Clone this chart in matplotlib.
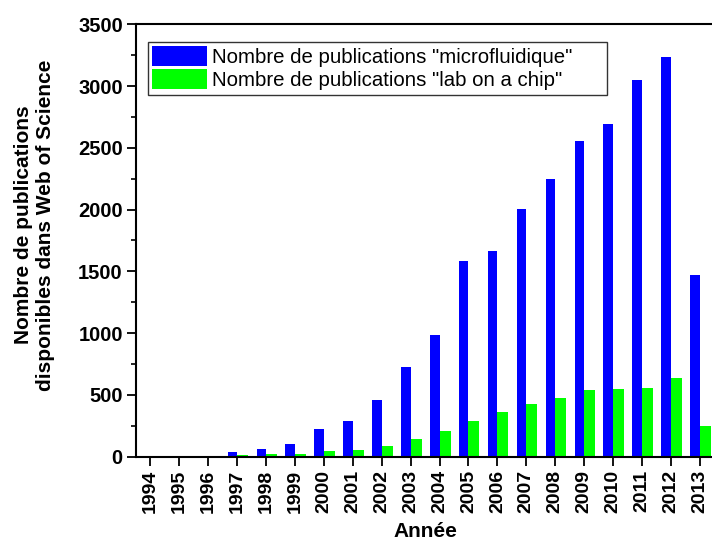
import numpy as np
import matplotlib
matplotlib.use("Agg")
import matplotlib.pyplot as plt
from matplotlib.ticker import MultipleLocator
from matplotlib.patches import Rectangle
from matplotlib.legend_handler import HandlerPatch

plt.rcParams['font.family'] = ['Liberation Sans', 'DejaVu Sans']

years = np.arange(1994, 2014)
micro = [0, 0, 0, 38, 62, 105, 225, 292, 460, 725, 987, 1581, 1668,
         2006, 2244, 2555, 2690, 3049, 3231, 1471]
lab_chip = [0, 0, 0, 11, 22, 19, 46, 54, 89, 141, 208, 287, 362,
            430, 479, 538, 547, 557, 641, 249]
labels = ['Nombre de publications "microfluidique"',
          'Nombre de publications "lab on a chip"']


def shifted_patch(legend, orig_handle, xdescent, ydescent, width, height, fontsize):
    # leave some room between the frame and the colour box
    off = 10
    return Rectangle((-xdescent + off, -ydescent), width - off, height)


W, H = 712, 541
fig = plt.figure(figsize=(W / 100, H / 100), dpi=100)
ax = fig.add_axes([0.191, 0.1558, 0.8324, 0.7994])

ax.bar(years - 0.33, micro, width=0.33, align='edge', color='#0000ff', label=labels[0])
ax.bar(years, lab_chip, width=0.38, align='edge', color='#00ff00', label=labels[1])

ax.set_xlim(1993.5, 2014.0)
ax.set_ylim(0, 3500)
ax.set_xticks(years)
ax.set_xticklabels([str(y) for y in years], rotation=90, fontsize=14, fontweight='bold')
ax.yaxis.set_major_locator(MultipleLocator(500))
ax.yaxis.set_minor_locator(MultipleLocator(250))
for lbl in ax.get_yticklabels():
    lbl.set_fontsize(14.5)
    lbl.set_fontweight('bold')
ax.tick_params(axis='both', which='major', direction='out', length=6.5, width=1.3, pad=3)
ax.tick_params(axis='y', which='minor', direction='out', length=3.5, width=1.2)
for side in ['left', 'bottom', 'top', 'right']:
    ax.spines[side].set_linewidth(1.5)

ax.set_ylabel("Nombre de publications\ndisponibles dans Web of Science",
              fontsize=15, fontweight='bold')
ax.yaxis.set_label_coords(-0.137, 0.536)
ax.set_xlabel("Année", fontsize=15, fontweight='bold')
ax.xaxis.set_label_coords((425 - 136) / 592.7, -65 / 432)

leg = ax.legend(loc='upper left', bbox_to_anchor=(148 / W, 1 - 41.7 / H),
                bbox_transform=fig.transFigure, borderaxespad=0, fontsize=14.7,
                frameon=False, handlelength=2.7, handleheight=1.15,
                handletextpad=0.22, labelspacing=0.1, borderpad=0.2,
                handler_map={Rectangle: HandlerPatch(patch_func=shifted_patch)})

# legend box is wider than its text in the original
fig.patches.append(Rectangle((148 / W, 1 - 95 / H), (607 - 148) / W, (95 - 41.7) / H,
                             transform=fig.transFigure, fill=False,
                             edgecolor='#333333', linewidth=1.0, zorder=5))

fig.savefig("out.png", dpi=100)
